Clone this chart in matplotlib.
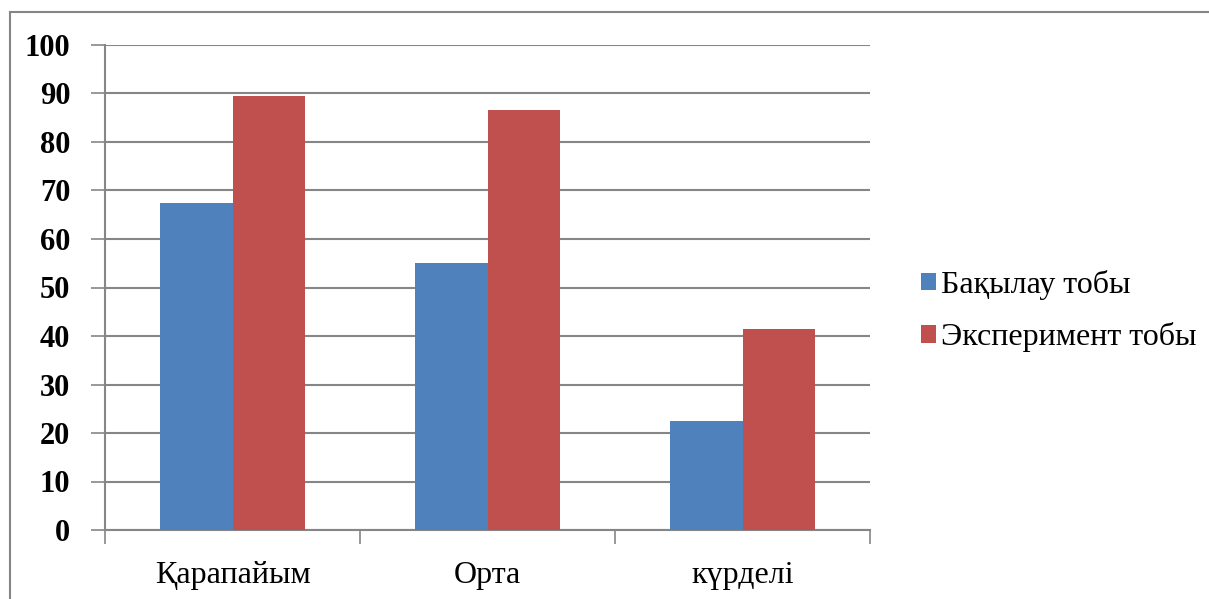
#!/usr/bin/env python3
"""Grouped bar chart: control vs experiment group by task difficulty."""

import matplotlib
matplotlib.use("Agg")
import matplotlib.pyplot as plt
from matplotlib.lines import Line2D
import numpy as np

CATEGORIES = ["Қарапайым", "Орта", "күрделі"]
SERIES_NAMES = ["Бақылау тобы", "Эксперимент тобы"]
CONTROL = [67.5, 55.0, 22.5]
EXPERIMENT = [89.5, 86.5, 41.5]
Y_TICKS = list(range(0, 101, 10))

BLUE = "#4F81BD"
RED = "#C0504D"
GRID = "#868686"

plt.rcParams["font.family"] = ["Liberation Serif", "DejaVu Serif"]

fig = plt.figure(figsize=(12.09, 5.99), dpi=100)
ax = fig.add_axes([105 / 1209, 1 - 530 / 599, (870 - 105) / 1209, (530 - 45) / 599])

x = np.arange(len(CATEGORIES))
w = 0.285
ax.bar(x - w / 2, CONTROL, width=w, color=BLUE, label=SERIES_NAMES[0], zorder=3)
ax.bar(x + w / 2, EXPERIMENT, width=w, color=RED, label=SERIES_NAMES[1], zorder=3)

ax.set_xlim(-0.5, len(CATEGORIES) - 0.5)
ax.set_ylim(0, 100)
ax.set_yticks(Y_TICKS)
ax.set_yticklabels([str(v) for v in Y_TICKS], fontsize=22, fontweight="bold")
ax.yaxis.grid(True, color=GRID, linewidth=1.5, zorder=0)
ax.tick_params(axis="y", length=10, width=1.2, color=GRID, pad=15)

# category labels centered, ticks at boundaries
ax.set_xticks(x)
ax.set_xticklabels(CATEGORIES, fontsize=23)
ax.tick_params(axis="x", length=0, pad=22)
ax.set_xticks(np.arange(-0.5, len(CATEGORIES)), minor=True)
ax.tick_params(axis="x", which="minor", length=10, width=1.2, color=GRID)

for side in ("top", "right"):
    ax.spines[side].set_visible(False)
for side in ("left", "bottom"):
    ax.spines[side].set_color(GRID)
    ax.spines[side].set_linewidth(1.5)

ax.legend(loc="center left", bbox_to_anchor=((921 - 105) / 765, (530 - 311) / 485),
          frameon=False, fontsize=23, borderpad=0, borderaxespad=0,
          handlelength=0.47, handleheight=0.47, handletextpad=0.15,
          labelspacing=0.7)

# outer chart frame (cropped at right and bottom)
fx0, fy0 = 10 / 1209, 1 - 12 / 599
fig.add_artist(Line2D([fx0, 1.0], [fy0, fy0], color=GRID, linewidth=1.5))
fig.add_artist(Line2D([fx0, fx0], [0.0, fy0], color=GRID, linewidth=1.5))

fig.savefig("out.png", dpi=100)
